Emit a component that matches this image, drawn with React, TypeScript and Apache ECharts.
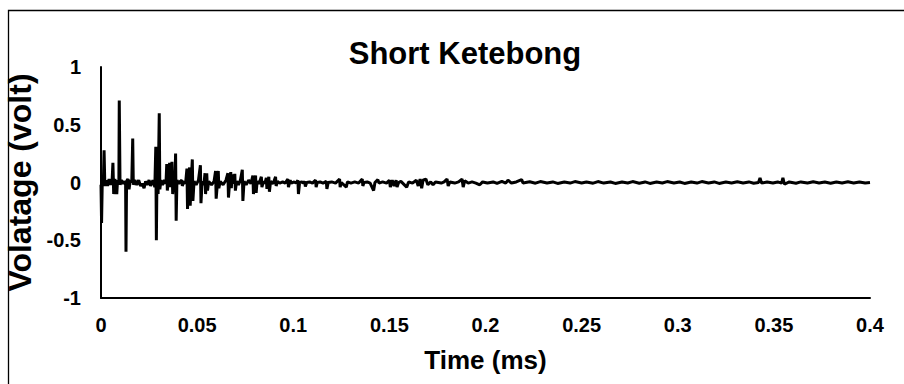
import React, { useEffect, useRef } from "react";
import * as echarts from "echarts";

// Time (ms) / voltage (volt) pairs, in three segments
const attackSegment: [number, number][] = [
  [0, -0.02], [0.0003, -0.35], [0.0007, 0.05], [0.0012, -0.02], [0.0016, 0.28], [0.002, -0.03],
  [0.0026, 0.02], [0.0034, -0.03], [0.0042, 0.03], [0.005, -0.02], [0.0058, 0.02], [0.0062, 0.17],
  [0.0066, -0.1], [0.0072, 0.03], [0.0078, -0.02], [0.0082, -0.1], [0.0086, 0.02], [0.0093, 0.0],
  [0.0095, 0.71], [0.0099, -0.02], [0.0106, 0.02], [0.0114, -0.01], [0.0122, 0.01], [0.0128, -0.02],
  [0.013, -0.6], [0.0133, 0.01], [0.014, 0.03], [0.0146, -0.06], [0.0152, 0.02], [0.016, 0.0],
  [0.0165, 0.38], [0.0168, -0.02], [0.0176, 0.02], [0.0186, -0.02], [0.0196, 0.02], [0.0206, -0.03],
  [0.0214, -0.01], [0.0224, -0.05], [0.0232, 0.01], [0.024, -0.02], [0.025, 0.02], [0.0258, -0.03],
  [0.027, 0.02], [0.028, -0.04], [0.0285, 0.31], [0.0288, -0.5], [0.0292, 0.2], [0.0297, -0.1],
  [0.0303, 0.6], [0.0306, -0.06], [0.0312, 0.02], [0.032, -0.02], [0.033, 0.02], [0.0338, -0.01],
];

const decaySegment: [number, number][] = [
  [0.0342, 0.16], [0.0345, -0.07], [0.035, 0.02], [0.0357, 0.17], [0.036, -0.04], [0.0365, 0.01],
  [0.0369, 0.18], [0.0373, -0.1], [0.0378, 0.01], [0.0384, -0.02], [0.0388, 0.25], [0.0391, -0.33],
  [0.0395, 0.02], [0.0405, -0.01], [0.0412, 0.01], [0.042, 0.02], [0.0423, -0.03], [0.043, 0.01],
  [0.044, -0.01], [0.0447, 0.12], [0.045, -0.23], [0.0455, 0.0], [0.0461, 0.13], [0.0464, -0.2],
  [0.0469, 0.0], [0.0475, 0.2], [0.0478, -0.16], [0.0484, 0.01], [0.0495, -0.02], [0.0507, 0.02],
  [0.0517, 0.15], [0.052, -0.18], [0.0526, 0.01], [0.0535, -0.02], [0.0541, 0.08], [0.0544, -0.1],
  [0.055, 0.08], [0.0554, -0.07], [0.056, 0.01], [0.0575, -0.02], [0.0588, 0.01], [0.0596, 0.1],
  [0.0599, -0.14], [0.0606, 0.0], [0.061, 0.1], [0.0613, -0.05], [0.062, 0.01], [0.0635, -0.02],
  [0.065, 0.02], [0.066, 0.08], [0.0663, -0.13], [0.0669, 0.0], [0.0675, 0.09], [0.0678, -0.05],
  [0.0682, 0.07], [0.069, -0.01], [0.0696, 0.075], [0.0699, -0.07], [0.0705, 0.01], [0.0715, -0.02],
  [0.0725, 0.02], [0.0735, 0.11], [0.0738, -0.16], [0.0744, 0.01], [0.0755, -0.02], [0.0768, 0.02],
  [0.078, -0.01], [0.079, 0.06], [0.0793, -0.1], [0.0799, 0.01], [0.0804, 0.06], [0.0807, -0.09],
  [0.0812, 0.01], [0.0822, -0.01], [0.0834, 0.05], [0.0837, -0.04], [0.0845, 0.01], [0.0852, -0.01],
  [0.086, 0.04], [0.0863, -0.055], [0.0868, 0.01], [0.0873, 0.05], [0.0876, -0.08], [0.0882, 0.01],
  [0.0895, -0.01], [0.0908, 0.05], [0.0911, -0.03], [0.0918, 0.01], [0.093, -0.005], [0.0945, 0.005],
  [0.0958, -0.005], [0.0972, 0.03], [0.0975, -0.04], [0.0984, 0.02], [0.099, -0.005], [0.1005, 0.005],
  [0.1015, -0.005], [0.1024, 0.02], [0.1027, -0.1], [0.1033, 0.0], [0.1045, 0.005], [0.1053, -0.005],
  [0.106, 0.01], [0.1063, -0.035], [0.107, 0.0], [0.1085, 0.005], [0.11, -0.005], [0.1116, 0.02],
  [0.1119, -0.04], [0.1125, 0.0], [0.114, 0.005], [0.1155, -0.005], [0.1172, 0.01], [0.1175, -0.055],
  [0.1182, 0.0], [0.12, 0.005], [0.122, -0.005], [0.1241, 0.03], [0.1244, -0.04], [0.125, 0.0],
  [0.1276, -0.04], [0.1282, 0.005], [0.13, -0.005], [0.132, 0.005], [0.134, -0.005], [0.1359, 0.03],
  [0.1362, -0.03], [0.1368, 0.0], [0.1385, 0.005], [0.14, -0.005], [0.1418, -0.07], [0.1425, 0.0],
  [0.144, 0.025], [0.1446, -0.005], [0.1465, 0.005], [0.1485, -0.005], [0.15, 0.02], [0.1505, -0.04],
  [0.1515, 0.02], [0.1525, -0.03], [0.1535, 0.02], [0.154, -0.04], [0.1548, 0.0],
];

const tailSegment: [number, number][] = [
  [0.156, 0.01], [0.159, -0.04], [0.16, 0.005], [0.162, -0.005], [0.164, 0.02], [0.165, -0.03],
  [0.166, 0.03], [0.1668, -0.05], [0.1675, 0.02], [0.169, 0.03], [0.17, -0.02], [0.1715, 0.005],
  [0.1727, -0.02], [0.174, 0.005], [0.177, -0.005], [0.1785, 0.005], [0.18, 0.03], [0.1806, -0.03],
  [0.1815, 0.005], [0.184, -0.005], [0.186, 0.005], [0.1878, 0.03], [0.1884, -0.04], [0.1892, 0.015],
  [0.191, -0.005], [0.193, 0.005], [0.195, -0.005], [0.197, -0.02], [0.1985, 0.005], [0.201, -0.005],
  [0.204, 0.005], [0.206, -0.008], [0.2085, 0.01], [0.2105, -0.005], [0.2117, 0.02], [0.2135, -0.005],
  [0.216, 0.005], [0.2188, 0.025], [0.2195, -0.005], [0.223, 0.006], [0.226, -0.006], [0.2285, 0.008],
  [0.232, -0.005], [0.235, 0.005], [0.2375, -0.008], [0.241, 0.004], [0.244, -0.005], [0.2465, 0.008],
  [0.25, -0.004], [0.2525, 0.005], [0.256, -0.006], [0.2585, 0.008], [0.2615, -0.005], [0.265, 0.004],
  [0.2675, -0.008], [0.271, 0.005], [0.274, -0.004], [0.2765, 0.008], [0.28, -0.006], [0.283, 0.005],
  [0.2855, -0.008], [0.289, 0.005], [0.292, -0.004], [0.2945, 0.008], [0.298, -0.005], [0.301, 0.004],
  [0.3035, -0.008], [0.307, 0.005], [0.31, -0.005], [0.3125, 0.008], [0.316, -0.005], [0.319, 0.005],
  [0.3215, -0.008], [0.325, 0.005], [0.328, -0.004], [0.331, 0.006], [0.334, -0.005], [0.337, 0.005],
  [0.3395, -0.006], [0.342, 0.0], [0.3428, 0.04], [0.3436, -0.005], [0.3465, 0.005], [0.3495, -0.005],
  [0.352, 0.005], [0.354, -0.005], [0.3547, 0.04], [0.3555, -0.015], [0.358, 0.005], [0.3615, -0.006],
  [0.364, 0.005], [0.3675, -0.005], [0.3705, 0.006], [0.3735, -0.005], [0.3765, 0.005], [0.3795, -0.006],
  [0.3825, 0.005], [0.3855, -0.005], [0.3885, 0.006], [0.3915, -0.005], [0.3945, 0.005], [0.3975, -0.005],
  [0.4, 0.0],
];

const chartTitle = "Short Ketebong";
const xAxisTitle = "Time (ms)";
const yAxisTitle = "Volatage (volt)";
const xTicks = [0, 0.05, 0.1, 0.15, 0.2, 0.25, 0.3, 0.35, 0.4];
const yTicks = [-1, -0.5, 0, 0.5, 1];

const FONT = "'Liberation Sans', Arial, sans-serif";

export default function App() {
  const ref = useRef<HTMLDivElement>(null);
  useEffect(() => {
    if (!ref.current) return;
    const chart = echarts.init(ref.current, null, { renderer: "svg" });
    const data = [...attackSegment, ...decaySegment, ...tailSegment];
    chart.setOption({
      animation: false,
      backgroundColor: "#ffffff",
      title: {
        text: chartTitle,
        left: 460,
        top: 33,
        textAlign: "center",
        textStyle: { fontFamily: FONT, fontWeight: "bold", fontSize: 31, color: "#000" },
      },
      graphic: [
        {
          type: "rect",
          shape: { x: 8.5, y: 10.5, width: 1000, height: 1000 },
          style: { fill: "none", stroke: "#000", lineWidth: 1.3 },
          silent: true,
        },
      ],
      grid: {
        left: 101,
        top: 67,
        width: 769,
        height: 231,
        containLabel: false,
        outerBoundsMode: "none",
      },
      xAxis: {
        type: "value",
        min: xTicks[0],
        max: xTicks[xTicks.length - 1],
        interval: 0.05,
        name: xAxisTitle,
        nameLocation: "middle",
        nameGap: 49,
        nameTextStyle: { fontFamily: FONT, fontWeight: "bold", fontSize: 26, color: "#000" },
        axisLine: { show: true, onZero: false, lineStyle: { color: "#000", width: 2 } },
        axisTick: { show: false },
        splitLine: { show: false },
        axisLabel: {
          margin: 17,
          fontFamily: FONT,
          fontWeight: "bold",
          fontSize: 20,
          color: "#000",
          formatter: (v: number) => String(parseFloat(v.toFixed(3))),
        },
      },
      yAxis: {
        type: "value",
        min: yTicks[0],
        max: yTicks[yTicks.length - 1],
        interval: 0.5,
        name: yAxisTitle,
        nameLocation: "middle",
        nameGap: 57,
        nameRotate: 90,
        nameTextStyle: { fontFamily: FONT, fontWeight: "bold", fontSize: 32, color: "#000" },
        axisLine: { show: true, lineStyle: { color: "#000", width: 2 } },
        axisTick: { show: false },
        splitLine: { show: false },
        axisLabel: {
          margin: 20,
          fontFamily: FONT,
          fontWeight: "bold",
          fontSize: 20,
          color: "#000",
        },
      },
      series: [
        {
          type: "line",
          data,
          showSymbol: false,
          symbol: "none",
          lineStyle: { color: "#000", width: 3 },
          z: 3,
        },
      ],
    });
    return () => chart.dispose();
  }, []);
  return (
    <div
      ref={ref}
      style={{ position: "fixed", left: 0, top: 0, width: 904, height: 384, background: "#fff" }}
    />
  );
}
